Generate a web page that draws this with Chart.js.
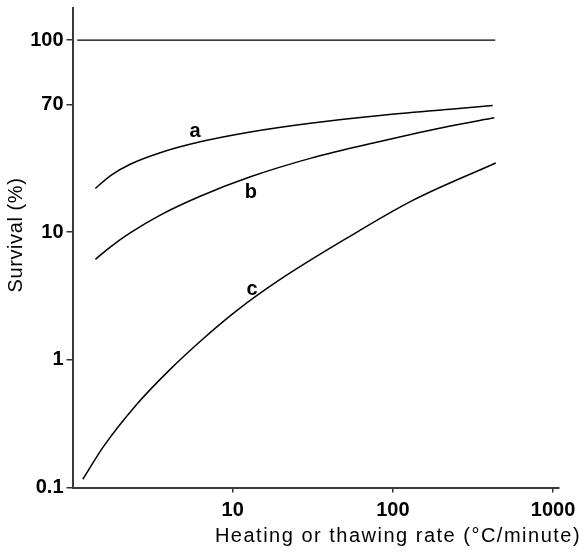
<!DOCTYPE html>
<html>
<head>
<meta charset="utf-8">
<script src="https://cdn.jsdelivr.net/npm/chart.js@4/dist/chart.umd.min.js"></script>
<style>
   html, body { margin: 0; padding: 0; background: #fff; }
   .chart__body { position: relative; width: 585px; height: 553px; }
</style>
</head>
<body>
<div class="chart__body"><canvas id="myChart"></canvas></div>
<script>
// values (x: rate, y: position on the survival axis)
const rateA = [1.39, 1.72, 2.29, 3.53, 6.27, 12.9, 30.5, 83.2, 228, 420];
const survA = [22.0, 27.6, 34.0, 41.9, 51.0, 60.9, 71.3, 82.0, 91.7, 98.0];

const rateB = [1.39, 1.72, 2.29, 3.53, 6.27, 12.9, 30.5, 83.2, 228, 430];
const survB = [6.12, 7.64, 9.86, 13.6, 19.1, 27.1, 37.8, 51.2, 67.7, 78.6];

const rateC = [1.16, 1.56, 2.53, 4.07, 6.57, 10.6, 19.8, 51.6, 134, 439];
const survC = [0.116, 0.209, 0.451, 0.842, 1.47, 2.43, 4.26, 8.97, 17.8, 34.8];

const rateTop = [1.07, 436];
const survTop = [319, 319];

const curveNames = ['a', 'b', 'c'];
const namePosX = [5.83, 13.0, 13.2];
const namePosY = [61.1, 20.4, 3.57];

const xTickValues = [10, 100, 1000];
const xTickLabels = ['10', '100', '1000'];
const yTickValues = [0.1, 1, 10, 100, 319];
const yTickLabels = ['0.1', '1', '10', '70', '100'];

const xTitle = 'Heating or thawing rate (°C/minute)';
const yTitle = 'Survival (%)';

const toPoints = (xs, ys) => xs.map((x, i) => ({ x: x, y: ys[i] }));

const lineStyle = {
   borderColor: '#000',
   borderWidth: 1.5,
   pointRadius: 0,
   fill: false,
   cubicInterpolationMode: 'monotone',
};

const data = {
   datasets: [
      { ...lineStyle, label: 'top', data: toPoints(rateTop, survTop), borderWidth: 1.3 },
      { ...lineStyle, label: 'a', data: toPoints(rateA, survA) },
      { ...lineStyle, label: 'b', data: toPoints(rateB, survB) },
      { ...lineStyle, label: 'c', data: toPoints(rateC, survC) },
   ]
};

const tickFont = { family: "'Liberation Sans', Arial, sans-serif", size: 20, weight: 'bold' };

// curve names and axis titles
const textPlugin = {
   id: 'texts',
   afterDraw(chart) {
      const ctx = chart.ctx;
      const xs = chart.scales.x;
      const ys = chart.scales.y;
      ctx.save();
      ctx.fillStyle = '#000';
      ctx.font = "bold 20px 'Liberation Sans', Arial, sans-serif";
      ctx.textAlign = 'center';
      ctx.textBaseline = 'middle';
      curveNames.forEach((name, i) => {
         ctx.fillText(name, xs.getPixelForValue(namePosX[i]), ys.getPixelForValue(namePosY[i]));
      });

      ctx.font = "20px 'Liberation Sans', Arial, sans-serif";
      ctx.textBaseline = 'alphabetic';
      ctx.letterSpacing = '1.5px';
      ctx.fillText(xTitle, 398, 542);

      ctx.letterSpacing = '0.6px';
      ctx.translate(16, 235);
      ctx.rotate(-Math.PI / 2);
      ctx.textBaseline = 'middle';
      ctx.fillText(yTitle, 0, 0);
      ctx.restore();
   }
};

const config = {
   type: 'line',
   data: data,
   options: {
      responsive: true,
      maintainAspectRatio: false,
      animation: false,
      layout: {
         padding: { top: 8, right: 26, left: 0, bottom: 0 }
      },
      scales: {
         x: {
            type: 'logarithmic',
            min: 1,
            max: 1090,
            afterBuildTicks: (scale) => {
               scale.ticks = xTickValues.map(v => ({ value: v }));
            },
            afterFit: (scale) => {
               scale.height = 65.5;
               scale.paddingLeft = 0;
               scale.paddingRight = 0;
            },
            grid: {
               drawOnChartArea: false,
               drawTicks: true,
               tickLength: 5,
               color: '#333',
               lineWidth: 1.5,
            },
            border: { display: true, color: '#3a3a3a', width: 2 },
            ticks: {
               color: '#000',
               font: tickFont,
               padding: 6,
               autoSkip: false,
               maxRotation: 0,
               callback: (value, index) => xTickLabels[index],
            }
         },
         y: {
            type: 'logarithmic',
            min: 0.1,
            max: 569,
            afterBuildTicks: (scale) => {
               scale.ticks = yTickValues.map(v => ({ value: v }));
            },
            afterFit: (scale) => {
               scale.width = 72.5;
               scale.paddingTop = 0;
               scale.paddingBottom = 0;
            },
            grid: {
               drawOnChartArea: false,
               drawTicks: true,
               tickLength: 6,
               color: '#333',
               lineWidth: 1.5,
            },
            border: { display: true, color: '#3a3a3a', width: 2 },
            ticks: {
               color: '#000',
               font: tickFont,
               padding: 3,
               autoSkip: false,
               callback: (value, index) => yTickLabels[index],
            }
         }
      },
      plugins: {
         legend: { display: false },
         tooltip: { enabled: false },
      }
   },
   plugins: [textPlugin]
};

const myChart = new Chart(document.getElementById('myChart'), config);
</script>
</body>
</html>
